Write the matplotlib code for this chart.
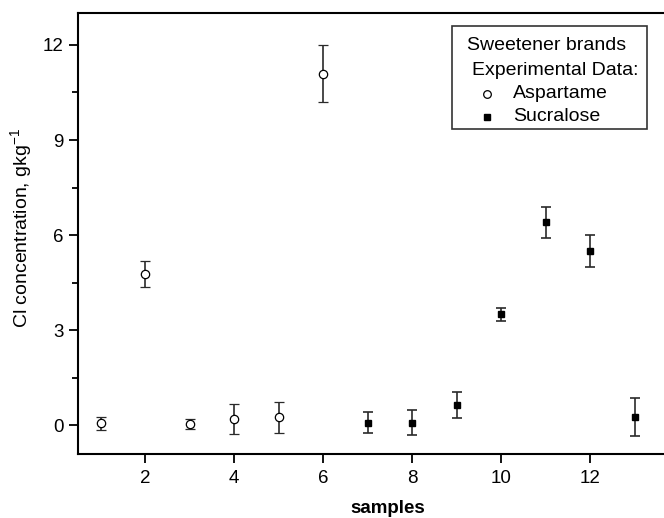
import numpy as np
import matplotlib
matplotlib.use("Agg")
import matplotlib.pyplot as plt
from matplotlib.lines import Line2D

plt.rcParams['font.family'] = ['Liberation Sans', 'DejaVu Sans']
plt.rcParams['mathtext.fontset'] = 'custom'
plt.rcParams['mathtext.rm'] = 'Liberation Sans'

# data
asp_x   = [1, 2, 3, 4, 5, 6]
asp_y   = [0.07, 4.79, 0.05, 0.20, 0.26, 11.09]
asp_err = [0.20, 0.41, 0.15, 0.48, 0.49, 0.90]

suc_x   = [7, 8, 9, 10, 11, 12, 13]
suc_y   = [0.09, 0.09, 0.65, 3.50, 6.40, 5.49, 0.27]
suc_err = [0.32, 0.39, 0.40, 0.20, 0.50, 0.50, 0.60]

y_ticks = [0, 3, 6, 9, 12]
x_ticks = [2, 4, 6, 8, 10, 12]

fig = plt.figure(figsize=(6.64, 5.18), dpi=100)
ax = fig.add_axes([0.118, 0.1236, 0.888, 0.851])

err_col = '#2a2a2a'
ax.errorbar(asp_x, asp_y, yerr=asp_err, fmt='o', ms=6, mfc='white', mec='black',
            mew=0.9, ecolor=err_col, elinewidth=1.2, capsize=3.3, capthick=1.2)
ax.errorbar(suc_x, suc_y, yerr=suc_err, fmt='s', ms=4, mfc='black', mec='black',
            ecolor=err_col, elinewidth=1.2, capsize=3.3, capthick=1.2)

ax.set_xlim(0.5, 13.75)
ax.set_ylim(-0.9, 13.0)
ax.set_xticks(x_ticks)
ax.set_yticks(y_ticks)
ax.set_yticks([1.5, 4.5, 7.5, 10.5], minor=True)
ax.tick_params(axis='both', which='major', direction='out', length=6.5, width=1.3,
               labelsize=13.5)
ax.tick_params(axis='x', which='major', pad=5)
ax.tick_params(axis='y', which='major', pad=4)
ax.tick_params(axis='y', which='minor', direction='out', length=4, width=1.3)
for side in ['left', 'bottom', 'top']:
    ax.spines[side].set_linewidth(1.5)
ax.spines['right'].set_visible(False)

ax.set_xlabel('samples', fontsize=13.5, fontweight='bold')
ax.xaxis.set_label_coords(0.524, -0.104)
ax.set_ylabel(r'Cl concentration, gkg$^{\mathregular{-1}}$', fontsize=14)
ax.yaxis.set_label_coords(-0.073, 0.513)

# legend box drawn like the original (title lines + two entries)
box_l, box_t, box_r, box_b = 451.7, 26, 647.3, 129
W, H = 664, 518
rect = plt.Rectangle((box_l / W, 1 - box_b / H), (box_r - box_l) / W, (box_b - box_t) / H,
                     transform=fig.transFigure, fill=True, facecolor='white',
                     edgecolor='#333333', lw=1.2, zorder=5)
fig.patches.append(rect)
fig.text(466.7 / W, 1 - 45 / H, 'Sweetener brands', fontsize=14, va='center', ha='left', zorder=6)
fig.text(471.7 / W, 1 - 70.7 / H, 'Experimental Data:', fontsize=14, va='center', ha='left', zorder=6)
fig.lines.append(Line2D([487.3 / W], [1 - 94 / H], marker='o', ms=5.5, mfc='white', mec='black',
                        mew=0.9, ls='none', transform=fig.transFigure, zorder=6))
fig.text(513.3 / W, 1 - 94 / H, 'Aspartame', fontsize=14, va='center', ha='left', zorder=6)
fig.lines.append(Line2D([487.3 / W], [1 - 116.7 / H], marker='s', ms=4, mfc='black', mec='black',
                        ls='none', transform=fig.transFigure, zorder=6))
fig.text(513.3 / W, 1 - 116.7 / H, 'Sucralose', fontsize=14, va='center', ha='left', zorder=6)

fig.savefig('out.png', dpi=100)
